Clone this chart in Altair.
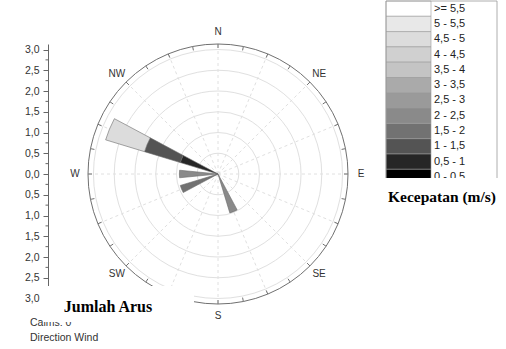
import math

import altair as alt
import pandas as pd

# ---- data -------------------------------------------------------------
# speed classes (legend order, fastest first) and their grey fills
speed_classes = [">= 5,5", "5 - 5,5", "4,5 - 5", "4 - 4,5", "3,5 - 4", "3 - 3,5",
                 "2,5 - 3", "2 - 2,5", "1,5 - 2", "1 - 1,5", "0,5 - 1", "0 - 0,5"]
speed_colors = ["#ffffff", "#e8e8e8", "#dcdcdc", "#d0d0d0", "#c4c4c4", "#aaaaaa",
                "#9a9a9a", "#8a8a8a", "#727272", "#545454", "#262626", "#000000"]

# frequency of each speed class per direction (bearing in degrees)
petal_direction = [292.5, 292.5, 292.5, 270.0, 247.5, 157.5]
petal_class = ["0,5 - 1", "1 - 1,5", "4,5 - 5", "2 - 2,5", "1,5 - 2", "2 - 2,5"]
petal_value = [0.95, 0.90, 0.98, 0.93, 0.95, 0.98]

compass_labels = ["N", "NE", "E", "SE", "S", "SW", "W", "NW"]
compass_angles = [0, 45, 90, 135, 180, 225, 270, 315]

ring_values = [0.5, 1.0, 1.5, 2.0, 2.5, 3.0]
axis_values = [3.0, 2.5, 2.0, 1.5, 1.0, 0.5, 0.0, -0.5, -1.0, -1.5, -2.0, -2.5, -3.0]

# ---- layout constants -------------------------------------------------
CX, CY = 218, 174          # centre of the rose
PX = 41.5                  # pixels per unit of frequency
R_OUT = 130                # outer frame radius
R_MAX = R_OUT / PX         # frequency reached by the frame
SECTOR = 22.5
HALF_W = 5.6               # half width of a petal in degrees
FONT = "Liberation Sans"
SERIF = "Liberation Serif"

rscale = alt.Scale(type="linear", domain=[0, 3], range=[0, 3 * PX], zero=True, nice=False)
tscale = alt.Scale(domain=[0, 360], range=[0, 2 * math.pi])
cscale = alt.Scale(domain=speed_classes, range=speed_colors)

# ---- stacked petals ---------------------------------------------------
petals = pd.DataFrame({"dir": petal_direction, "cls": petal_class, "freq": petal_value})
petals["order"] = petals["cls"].map(lambda c: -speed_classes.index(c))
petals = petals.sort_values(["dir", "order"])
petals["r1"] = petals.groupby("dir")["freq"].cumsum()
petals["r0"] = petals["r1"] - petals["freq"]
petals["t0"] = petals["dir"] - HALF_W
petals["t1"] = petals["dir"] + HALF_W

center = dict(x=alt.value(CX), y=alt.value(CY))

rings = alt.Chart(pd.DataFrame({"r": ring_values})).mark_arc(
    filled=False, stroke="#e0e0e0", strokeWidth=1, theta=0, theta2=2 * math.pi
).encode(radius=alt.Radius("r:Q", scale=rscale, stack=None), **center)

outer = alt.Chart(pd.DataFrame({"r": [R_OUT]})).mark_arc(
    filled=False, stroke="#707070", strokeWidth=1, theta=0, theta2=2 * math.pi
).encode(radius=alt.value(R_OUT), **center)

# dashed spokes every 22.5 degrees
spk = pd.DataFrame({"a": [i * SECTOR for i in range(16)]})
spk["x1"] = CX
spk["y1"] = CY
spk["x2"] = CX + R_OUT * spk["a"].map(lambda a: math.sin(math.radians(a)))
spk["y2"] = CY - R_OUT * spk["a"].map(lambda a: math.cos(math.radians(a)))
spokes = alt.Chart(spk).mark_rule(color="#e0e0e0", strokeWidth=1, strokeDash=[3, 3]).encode(
    x=alt.X("x1:Q", scale=None), y=alt.Y("y1:Q", scale=None),
    x2="x2:Q", y2="y2:Q")

# small inward ticks on the frame
tk = pd.DataFrame({"a": [i * SECTOR / 2 for i in range(32)]})
tk["x1"] = CX + R_OUT * tk["a"].map(lambda a: math.sin(math.radians(a)))
tk["y1"] = CY - R_OUT * tk["a"].map(lambda a: math.cos(math.radians(a)))
tk["x2"] = CX + (R_OUT - 4) * tk["a"].map(lambda a: math.sin(math.radians(a)))
tk["y2"] = CY - (R_OUT - 4) * tk["a"].map(lambda a: math.cos(math.radians(a)))
frame_ticks = alt.Chart(tk).mark_rule(color="#707070", strokeWidth=1).encode(
    x=alt.X("x1:Q", scale=None), y=alt.Y("y1:Q", scale=None),
    x2="x2:Q", y2="y2:Q")

petal_layer = alt.Chart(petals).mark_arc(stroke="#6a6a6a", strokeWidth=0.6).encode(
    theta=alt.Theta("t0:Q", scale=tscale, stack=None), theta2="t1:Q",
    radius=alt.Radius("r0:Q", scale=rscale, stack=None), radius2="r1:Q",
    color=alt.Color("cls:N", scale=cscale, legend=None),
    **center)

# compass labels
cmp_df = pd.DataFrame({"lab": compass_labels, "a": compass_angles})
cmp_df["x"] = CX + 143 * cmp_df["a"].map(lambda a: math.sin(math.radians(a)))
cmp_df["y"] = CY - 142 * cmp_df["a"].map(lambda a: math.cos(math.radians(a)))
compass = alt.Chart(cmp_df).mark_text(font=FONT, fontSize=10, color="#333333",
                                      align="center", baseline="middle").encode(
    x=alt.X("x:Q", scale=None), y=alt.Y("y:Q", scale=None), text="lab:N")

# ---- left frequency axis ----------------------------------------------
axis_layer = alt.Chart(pd.DataFrame({"v": axis_values})).mark_point(opacity=0).encode(
    x=alt.value(48),
    y=alt.Y("v:Q",
            scale=alt.Scale(domain=[-R_MAX, R_MAX], range=[CY + R_OUT, CY - R_OUT],
                            nice=False, zero=False),
            axis=alt.Axis(orient="left", offset=-48, values=axis_values, title=None,
                          labelExpr="replace(format(abs(datum.value), '.1f'), '.', ',')",
                          labelFont=FONT, labelFontSize=10.5, labelColor="#333333",
                          labelPadding=4, labelOverlap=False, tickSize=5,
                          tickColor="#666666", domainColor="#666666", grid=False)))

minor = pd.DataFrame({"v": [v - 0.25 for v in axis_values[:-1]]})
minor["y"] = CY - minor["v"] * PX
minor_ticks = alt.Chart(minor).mark_rule(color="#666666", strokeWidth=1).encode(
    x=alt.value(45.5), x2=alt.value(48), y=alt.Y("y:Q", scale=None))

# ---- speed legend -----------------------------------------------------
LEG_TOP, ROW = 1, 15.3
leg = pd.DataFrame({"cls": speed_classes})
leg["y0"] = LEG_TOP + leg.index * ROW
leg["y1"] = leg["y0"] + ROW
leg["ym"] = leg["y0"] + ROW / 2
leg_swatch = alt.Chart(leg).mark_rect(stroke="#9a9a9a", strokeWidth=0.6).encode(
    x=alt.value(386), x2=alt.value(431),
    y=alt.Y("y0:Q", scale=None), y2="y1:Q",
    color=alt.Color("cls:N", scale=cscale, legend=None))
leg_text = alt.Chart(leg).mark_text(font=FONT, fontSize=11, color="#222222",
                                    align="left", baseline="middle").encode(
    x=alt.value(434), y=alt.Y("ym:Q", scale=None), text="cls:N")
leg_frame = alt.Chart(pd.DataFrame({"k": [0]})).mark_rect(
    filled=False, stroke="#9a9a9a", strokeWidth=0.8).encode(
    x=alt.value(386), x2=alt.value(497), y=alt.value(LEG_TOP), y2=alt.value(200))

# ---- titles and notes ---------------------------------------------------
notes = alt.Chart(pd.DataFrame({"t": ["Calms: 0", "Direction Wind"], "y": [323, 338]})).mark_text(
    font=FONT, fontSize=10.5, color="#333333", align="left", baseline="middle").encode(
    x=alt.value(30), y=alt.Y("y:Q", scale=None), text="t:N")

box_speed = alt.Chart(pd.DataFrame({"k": [0]})).mark_rect(color="white").encode(
    x=alt.value(378), x2=alt.value(506), y=alt.value(178), y2=alt.value(216))
title_speed = alt.Chart(pd.DataFrame({"t": ["Kecepatan (m/s)"]})).mark_text(
    font=SERIF, fontSize=15.5, fontWeight="bold", color="black",
    align="center", baseline="middle").encode(x=alt.value(442), y=alt.value(197), text="t:N")

box_count = alt.Chart(pd.DataFrame({"k": [0]})).mark_rect(color="white").encode(
    x=alt.value(43), x2=alt.value(194), y=alt.value(286), y2=alt.value(322))
title_count = alt.Chart(pd.DataFrame({"t": ["Jumlah Arus"]})).mark_text(
    font=SERIF, fontSize=16, fontWeight="bold", color="black",
    align="center", baseline="middle").encode(x=alt.value(108), y=alt.value(307), text="t:N")

chart = alt.layer(
    rings, spokes, outer, frame_ticks, petal_layer, compass,
    axis_layer, minor_ticks,
    leg_swatch, leg_frame, leg_text,
    notes, box_speed, title_speed, box_count, title_count,
).resolve_scale(y="independent").properties(
    width=506, height=349, padding=0,
    autosize=alt.AutoSizeParams(type="none"),
).configure_view(stroke=None)

chart.save("out.html", embed_options={"renderer": "svg", "actions": False})
